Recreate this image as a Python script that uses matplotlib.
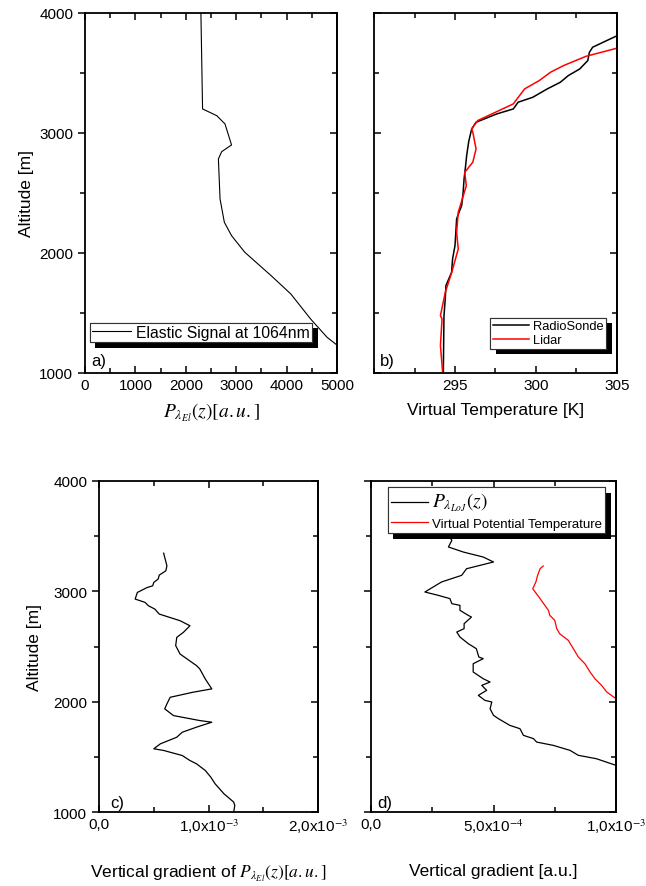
import matplotlib
matplotlib.use("Agg")
import matplotlib.pyplot as plt
import matplotlib.patheffects as pe
from matplotlib.ticker import MultipleLocator

plt.rcParams['font.family'] = ['Liberation Sans', 'DejaVu Sans']
plt.rcParams['mathtext.fontset'] = 'stix'

# a) elastic signal at 1064nm
sig_x = [2300, 2333, 2614, 2778, 2908, 2712, 2647, 2680, 2765, 2908, 3170, 3693, 4085, 4477, 4804, 5100]
sig_z = [4000, 3200, 3144, 3075, 2900, 2844, 2783, 2450, 2256, 2144, 2006, 1811, 1658, 1450, 1297, 1200]

# b) virtual temperature
sonde_t = [294.28, 294.30, 294.32, 294.40, 294.44, 294.79, 294.85, 295.00, 295.05, 295.10,
           295.25, 295.41, 295.50, 295.56, 295.65, 295.72, 295.85, 296.03, 296.30, 297.57,
           298.60, 298.90, 299.80, 300.70, 301.50, 302.00, 302.70, 303.20, 303.30, 303.50,
           304.36, 304.90, 305.30]
sonde_z = [1000, 1250, 1478, 1620, 1728, 1839, 1950, 2061, 2170, 2283,
           2340, 2394, 2500, 2617, 2720, 2811, 2930, 3033, 3089, 3158,
           3200, 3256, 3297, 3367, 3422, 3478, 3533, 3603, 3672, 3714,
           3769, 3803, 3830]
lidar_t = [294.24, 294.10, 294.20, 294.10, 294.40, 294.80, 295.20, 295.10, 295.20, 295.70,
           295.60, 296.10, 296.30, 296.10, 296.03, 296.40, 298.60, 299.30, 300.20, 300.90,
           301.70, 303.10, 305.00]
lidar_z = [1000, 1228, 1450, 1478, 1672, 1839, 2033, 2172, 2339, 2561,
           2672, 2756, 2867, 3006, 3033, 3103, 3242, 3367, 3436, 3506,
           3561, 3639, 3706]

# c) vertical gradient of elastic signal (x1e-3)
gc_x = [0.59, 0.62, 0.61, 0.55, 0.54, 0.50, 0.49, 0.44, 0.35, 0.33, 0.42, 0.45, 0.51, 0.55,
        0.74, 0.83, 0.77, 0.71, 0.70, 0.74, 0.89, 0.92, 0.97, 1.03, 0.86, 0.65, 0.62, 0.60,
        0.68, 0.92, 1.03, 0.89, 0.76, 0.71, 0.56, 0.50, 0.59, 0.76, 0.83, 0.89, 0.97, 1.02,
        1.06, 1.14, 1.23, 1.24, 1.23]
gc_z = [3346, 3231, 3186, 3147, 3111, 3081, 3050, 3035, 2990, 2930, 2900, 2870, 2839, 2794,
        2734, 2688, 2628, 2583, 2508, 2432, 2327, 2297, 2206, 2116, 2086, 2040, 1980, 1935,
        1874, 1829, 1814, 1769, 1723, 1678, 1618, 1573, 1558, 1512, 1467, 1437, 1377, 1317,
        1256, 1166, 1090, 1060, 1000]

# d) vertical gradients (x1e-3)
gd_x = [0.316, 0.33, 0.316, 0.377, 0.458, 0.50, 0.39, 0.37, 0.288, 0.22, 0.274, 0.322, 0.33,
        0.363, 0.363, 0.397, 0.41, 0.38, 0.38, 0.35, 0.363, 0.397, 0.43, 0.44, 0.458, 0.417,
        0.417, 0.458, 0.486, 0.452, 0.472, 0.438, 0.465, 0.493, 0.486, 0.50, 0.52, 0.567,
        0.608, 0.622, 0.663, 0.676, 0.744, 0.812, 0.846, 0.92, 1.0, 1.05]
gd_z = [3508, 3462, 3402, 3356, 3311, 3266, 3205, 3145, 3085, 2994, 2964, 2934, 2888,
        2873, 2828, 2782, 2767, 2707, 2662, 2631, 2586, 2526, 2480, 2405, 2390, 2344,
        2269, 2208, 2178, 2148, 2103, 2057, 2012, 1997, 1936, 1876, 1846, 1785,
        1755, 1695, 1665, 1634, 1604, 1559, 1514, 1483, 1423, 1400]
theta_x = [0.703, 0.69, 0.68, 0.673, 0.66, 0.68, 0.70, 0.724, 0.73, 0.75, 0.758, 0.77,
           0.805, 0.826, 0.846, 0.873, 0.894, 0.914, 0.941, 0.962, 1.0]
theta_z = [3230, 3205, 3145, 3085, 3024, 2964, 2903, 2828, 2782, 2737, 2662, 2616,
           2556, 2480, 2405, 2344, 2269, 2208, 2148, 2088, 2027]

fig = plt.figure(figsize=(6.46, 8.87), dpi=100)
ax_a = fig.add_axes([0.1316, 0.5784, 0.390, 0.4059])
ax_b = fig.add_axes([0.579, 0.5784, 0.376, 0.4059])
ax_c = fig.add_axes([0.1533, 0.0834, 0.339, 0.3732])
ax_d = fig.add_axes([0.5743, 0.0834, 0.3793, 0.3732])

shadow = [pe.withSimplePatchShadow(offset=(4, -4), shadow_rgbFace='k', alpha=1), pe.Normal()]


def style(ax, ylabels):
    for s in ax.spines.values():
        s.set_linewidth(1.3)
    ax.set_ylim(1000, 4000)
    ax.yaxis.set_major_locator(MultipleLocator(1000))
    ax.yaxis.set_minor_locator(MultipleLocator(500))
    ax.tick_params(axis='x', which='both', direction='in', top=True, bottom=True, labelsize=11)
    ax.tick_params(axis='y', which='both', direction='out' if ylabels else 'in', left=True,
                   right=False, labelsize=11, labelleft=ylabels)
    ax.tick_params(which='major', length=5, width=1.1)
    ax.tick_params(which='minor', length=3.5, width=1.1)
    # inward ticks on the right spine
    sec = ax.secondary_yaxis('right')
    sec.yaxis.set_major_locator(MultipleLocator(1000))
    sec.yaxis.set_minor_locator(MultipleLocator(500))
    sec.tick_params(which='both', direction='in', labelright=False, width=1.1)
    sec.tick_params(which='major', length=5)
    sec.tick_params(which='minor', length=3.5)
    sec.spines['right'].set_linewidth(1.3)


def leg_style(leg):
    fr = leg.get_frame()
    fr.set_edgecolor('#333333')
    fr.set_facecolor('white')
    fr.set_alpha(1)
    fr.set_linewidth(0.8)
    fr.set_path_effects(shadow)


# a
ax_a.plot(sig_x, sig_z, color='k', lw=0.8, label='Elastic Signal at 1064nm')
ax_a.set_xlim(0, 5000)
ax_a.xaxis.set_major_locator(MultipleLocator(1000))
ax_a.xaxis.set_minor_locator(MultipleLocator(500))
style(ax_a, True)
ax_a.set_ylabel('Altitude [m]', fontsize=12.5)
ax_a.set_xlabel(r'$P_{\lambda_{El}}\left(z\right)[a{.}u{.}]$', fontsize=14, labelpad=6)
leg = ax_a.legend(loc='lower left', bbox_to_anchor=(0.0, 0.072), frameon=True, fancybox=False,
                  fontsize=11.3, handlelength=2.5, borderpad=0.15, borderaxespad=0.3,
                  handletextpad=0.3)
leg_style(leg)
ax_a.text(0.025, 0.015, 'a)', transform=ax_a.transAxes, fontsize=12, va='bottom')

# b
ax_b.plot(sonde_t, sonde_z, color='k', lw=1.1, label='RadioSonde')
ax_b.plot(lidar_t, lidar_z, color='#ff0000', lw=1.1, label='Lidar')
ax_b.set_xlim(290, 305)
ax_b.set_xticks([295, 300, 305])
ax_b.xaxis.set_minor_locator(MultipleLocator(2.5))
style(ax_b, False)
ax_b.set_xlabel('Virtual Temperature [K]', fontsize=12.5, labelpad=7)
leg = ax_b.legend(loc='lower right', bbox_to_anchor=(0.955, 0.067), frameon=True, fancybox=False,
                  fontsize=9.3, handlelength=2.8, borderpad=0.2, handletextpad=0.3,
                  labelspacing=0.15, borderaxespad=0)
leg_style(leg)
ax_b.text(0.025, 0.015, 'b)', transform=ax_b.transAxes, fontsize=12, va='bottom')

# c
ax_c.plot([v * 1e-3 for v in gc_x], gc_z, color='k', lw=0.9)
ax_c.set_xlim(0, 2e-3)
ax_c.set_xticks([0, 1e-3, 2e-3], ['0,0', r'1,0x10$^{-3}$', r'2,0x10$^{-3}$'])
ax_c.xaxis.set_minor_locator(MultipleLocator(0.5e-3))
style(ax_c, True)
ax_c.set_ylabel('Altitude [m]', fontsize=12.5, labelpad=8)
ax_c.set_xlabel(r'Vertical gradient of $P_{\lambda_{El}}\left(z\right)[a{.}u{.}]$', fontsize=12.5,
                labelpad=20)
ax_c.text(0.05, 0.005, 'c)', transform=ax_c.transAxes, fontsize=12, va='bottom')

# d
ax_d.plot([v * 1e-3 for v in gd_x], gd_z, color='k', lw=0.9, label=r'$P_{\lambda_{LoJ}}\left(z\right)$')
ax_d.plot([v * 1e-3 for v in theta_x], theta_z, color='#ff0000', lw=0.9,
          label='Virtual Potential Temperature')
ax_d.set_xlim(0, 1e-3)
ax_d.set_xticks([0, 5e-4, 1e-3], ['0,0', r'5,0x10$^{-4}$', r'1,0x10$^{-3}$'])
ax_d.xaxis.set_minor_locator(MultipleLocator(2.5e-4))
style(ax_d, False)
ax_d.tick_params(axis='y', which='both', direction='out', left=True)
ax_d.set_xlabel('Vertical gradient [a.u.]', fontsize=12.5, labelpad=20)
leg = ax_d.legend(loc='upper left', bbox_to_anchor=(0.069, 0.982), frameon=True, fancybox=False,
                  fontsize=9.5, handlelength=2.8, borderpad=0.25, handletextpad=0.3,
                  labelspacing=0.35, borderaxespad=0)
leg.get_texts()[0].set_fontsize(14)
leg_style(leg)
ax_d.text(0.025, 0.005, 'd)', transform=ax_d.transAxes, fontsize=12, va='bottom')

fig.savefig('out.png', dpi=100)
